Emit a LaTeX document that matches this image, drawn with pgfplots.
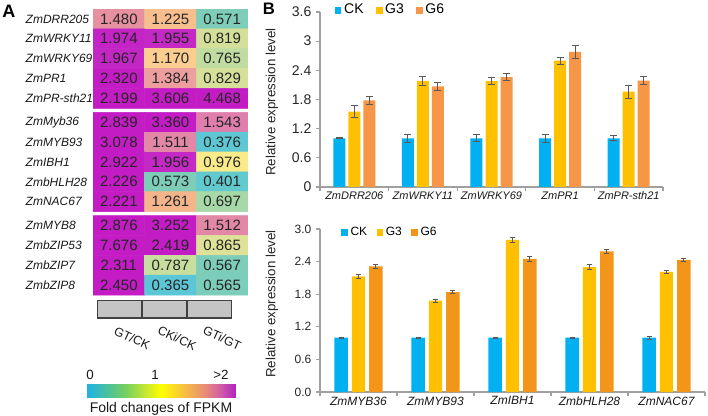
\documentclass[border=0pt]{standalone}
\usepackage{fontspec}
\setmainfont{Liberation Sans}
\usepackage{pgfplots}
\usepackage{pgfplotstable}
\pgfplotsset{compat=1.18}
\usetikzlibrary{calc}

\definecolor{ck}{HTML}{00B0F0}
\definecolor{gthree}{HTML}{FFC000}
\definecolor{gsixa}{HTML}{F79646}
\definecolor{gsixb}{HTML}{F39518}
\definecolor{errc}{HTML}{595959}
\definecolor{axc}{HTML}{A0A0A0}
\definecolor{graybox}{HTML}{C4C4C4}

\pgfplotsset{
 colormap={pastel}{rgb255(0pt)=(40,180,225) rgb255(36pt)=(90,198,214) rgb255(40pt)=(98,201,206) rgb255(57pt)=(125,205,184) rgb255(70pt)=(168,216,168) rgb255(82pt)=(212,224,154) rgb255(87pt)=(222,226,152) rgb255(98pt)=(250,234,138) rgb255(117pt)=(251,205,144) rgb255(126pt)=(244,181,140) rgb255(138pt)=(236,160,158) rgb255(148pt)=(230,144,160) rgb255(154pt)=(224,127,174) rgb255(175pt)=(208,80,190) rgb255(194pt)=(196,44,198) rgb255(200pt)=(196,28,196)},
 colormap={vivid}{rgb255(0pt)=(28,177,233) rgb255(25pt)=(110,205,100) rgb255(40pt)=(200,232,50) rgb255(50pt)=(255,255,0) rgb255(65pt)=(248,192,64) rgb255(80pt)=(232,136,120) rgb255(90pt)=(208,90,168) rgb255(100pt)=(176,34,192)},
 myerr/.style={error bars/y dir=both, error bars/y explicit,
   error bars/error bar style={errc, line width=0.75pt},
   error bars/error mark options={errc, rotate=90, mark size=#1, line width=0.75pt}},
}

% heat map: x = comparison (0 GT/CK, 1 CKi/CK, 2 GTi/GT), y = gene row, c = colour value (clipped at 2), t = printed value
\pgfplotstableread{
x y c t
0 0 1.480 1.480
1 0 1.225 1.225
2 0 0.571 0.571
0 1 1.974 1.974
1 1 1.955 1.955
2 1 0.819 0.819
0 2 1.967 1.967
1 2 1.170 1.170
2 2 0.765 0.765
0 3 2.000 2.320
1 3 1.384 1.384
2 3 0.829 0.829
0 4 2.000 2.199
1 4 2.000 3.606
2 4 2.000 4.468
}\heatA
\pgfplotstableread{
x y c t
0 5.2 2.000 2.839
1 5.2 2.000 3.360
2 5.2 1.543 1.543
0 6.2 2.000 3.078
1 6.2 1.511 1.511
2 6.2 0.376 0.376
0 7.2 2.000 2.922
1 7.2 1.956 1.956
2 7.2 0.976 0.976
0 8.2 2.000 2.226
1 8.2 0.573 0.573
2 8.2 0.401 0.401
0 9.2 2.000 2.221
1 9.2 1.261 1.261
2 9.2 0.697 0.697
}\heatB
\pgfplotstableread{
x y c t
0 10.4 2.000 2.876
1 10.4 2.000 3.252
2 10.4 1.512 1.512
0 11.4 2.000 7.676
1 11.4 2.000 2.419
2 11.4 0.865 0.865
0 12.4 2.000 2.311
1 12.4 0.787 0.787
2 12.4 0.567 0.567
0 13.4 2.000 2.450
1 13.4 0.365 0.365
2 13.4 0.565 0.565
}\heatC

\pgfplotstableread{
x ck ckerr g3 g3err g6 g6err
0 1.00 0.01 1.55 0.12 1.78 0.09
1 1.00 0.08 2.18 0.09 2.07 0.08
2 1.00 0.07 2.18 0.08 2.26 0.07
3 1.00 0.08 2.60 0.07 2.78 0.14
4 1.00 0.05 1.96 0.13 2.19 0.09
}\topdata

\pgfplotstableread{
x ck ckerr g3 g3err g6 g6err
0 1.00 0.01 2.13 0.04 2.31 0.03
1 1.00 0.01 1.68 0.03 1.84 0.02
2 1.00 0.01 2.80 0.04 2.45 0.04
3 1.00 0.01 2.30 0.04 2.59 0.035
4 1.00 0.03 2.21 0.025 2.43 0.035
}\botdata

\begin{document}
\begin{tikzpicture}

% ---------------- Panel A: heat map ----------------
\begin{axis}[name=heat, at={(69.75pt,90pt)}, anchor=south west,
  scale only axis, width=116.25pt, height=214.5pt,
  xmin=-0.5, xmax=2.5, ymin=-0.5, ymax=13.9, y dir=reverse,
  axis line style={draw=none}, major tick length=0pt, xtick=\empty,
  ytick={0,1,2,3,4,5.2,6.2,7.2,8.2,9.2,10.4,11.4,12.4,13.4},
  yticklabels={ZmDRR205,ZmWRKY11,ZmWRKY69,ZmPR1,ZmPR-sth21,ZmMyb36,ZmMYB93,ZmIBH1,ZmbHLH28,ZmNAC67,ZmMYB8,ZmbZIP53,ZmbZIP7,ZmbZIP8},
  yticklabel style={font=\itshape\fontsize{9}{11}\selectfont, text=black!90, anchor=west, xshift=-54pt},
  colormap name=pastel, point meta min=0, point meta max=2]
\addplot[matrix plot*, mesh/cols=3, point meta=\thisrow{c}] table[x=x, y=y] {\heatA};
\addplot[matrix plot*, mesh/cols=3, point meta=\thisrow{c}] table[x=x, y=y] {\heatB};
\addplot[matrix plot*, mesh/cols=3, point meta=\thisrow{c}] table[x=x, y=y] {\heatC};
\pgfplotsset{celltext/.style={only marks, mark=none, point meta=explicit symbolic, nodes near coords,
   every node near coord/.append style={anchor=center, font=\fontsize{11.25}{12}\selectfont, text=black!85}}}
\addplot[celltext] table[x=x, y=y, meta=t] {\heatA};
\addplot[celltext] table[x=x, y=y, meta=t] {\heatB};
\addplot[celltext] table[x=x, y=y, meta=t] {\heatC};
\end{axis}

% gray comparison boxes + colour bar
\begin{axis}[at={(72.75pt,72.75pt)}, anchor=south west,
  scale only axis, width=101.25pt, height=13.5pt,
  xmin=-0.5, xmax=2.5, ymin=0, ymax=1,
  axis line style={draw=none}, major tick length=0pt, ytick=\empty,
  xtick={0,1,2}, xticklabels={GT/CK,CKi/CK,GTi/GT},
  xticklabel style={font=\fontsize{9.3}{11}\selectfont, text=black!90, xshift=9.5pt, yshift=-15pt, rotate=-25, anchor=center},
  colormap name=vivid, point meta min=0, point meta max=2,
  colorbar horizontal,
  colorbar style={at={($(parent axis.south west)+(-8.25pt,-51pt)$)}, anchor=south west,
    scale only axis, width=112.5pt, height=9.75pt,
    axis line style={draw=none}, major tick length=0pt,
    xtick={0.053,0.92,1.8}, xticklabels={0,1,{>2}}, xticklabel pos=upper,
    xticklabel style={font=\fontsize{10}{12}\selectfont, text=black!90},
    xlabel={Fold changes of FPKM},
    xlabel style={at={(axis description cs:0.5,0)}, anchor=north, font=\fontsize{10.5}{12}\selectfont, text=black!90}},
  ]
\addplot[ybar, bar width=1, fill=graybox, draw=black!75, line width=0.9pt] coordinates {(0,1) (1,1) (2,1)};
\end{axis}

\node[font=\bfseries\fontsize{13.5}{14}\selectfont] at (6.75pt,303pt) {A};
\node[font=\bfseries\fontsize{12.5}{14}\selectfont] at (201.75pt,304.5pt) {B};

% ---------------- Panel B top ----------------
\begin{axis}[at={(240pt,171pt)}, anchor=south west,
  scale only axis, width=257.25pt, height=131.25pt,
  xmin=-0.5, xmax=4.5, ymin=0, ymax=3.6,
  axis lines*=left, axis line style={axc, line width=0.8pt},
  tick style={axc, line width=0.8pt}, tick align=outside, major tick length=3pt,
  ytick={0,0.6,1.2,1.8,2.4,3,3.6}, yticklabels={0,0.6,1.2,1.8,2.4,3,3.6},
  yticklabel style={font=\fontsize{10.5}{12}\selectfont, text=black!85},
  xtick={-0.5,0.5,1.5,2.5,3.5,4.5}, xticklabels={,,,,,},
  extra x ticks={0,1,2,3,4},
  extra x tick labels={ZmDRR206,ZmWRKY11,ZmWRKY69,ZmPR1,ZmPR-sth21},
  extra x tick style={major tick length=0pt},
  xticklabel style={font=\itshape\fontsize{8.25}{10}\selectfont, text=black!90},
  ylabel={Relative expression level},
  ylabel style={at={(axis description cs:-0.14,0.486)}, anchor=center, font=\fontsize{10}{12}\selectfont, text=black!85},
  legend style={at={(0.03,1.011)}, anchor=west, draw=none, fill=none, legend columns=3,
    font=\fontsize{10.5}{12}\selectfont, /tikz/every even column/.append style={column sep=7pt}},
  legend image code/.code={\fill[#1] (0pt,-2.6pt) rectangle (5.2pt,2.6pt);},
  ]
\addplot[ybar, bar width=9pt, bar shift=0pt, fill=ck, draw=none, myerr=2.6pt] table[x expr=\thisrow{x}-0.2187, y=ck, y error=ckerr] {\topdata};
\addlegendentry{CK}
\addplot[ybar, bar width=9pt, bar shift=0pt, fill=gthree, draw=none, myerr=2.6pt] table[x=x, y=g3, y error=g3err] {\topdata};
\addlegendentry{G3}
\addplot[ybar, bar width=9pt, bar shift=0pt, fill=gsixa, draw=none, myerr=2.6pt] table[x expr=\thisrow{x}+0.2187, y=g6, y error=g6err] {\topdata};
\addlegendentry{G6}
\end{axis}

% ---------------- Panel B bottom ----------------
\begin{axis}[at={(240pt,17.25pt)}, anchor=south west,
  scale only axis, width=288.75pt, height=122.25pt,
  xmin=-0.5, xmax=4.5, ymin=0, ymax=3.0,
  axis lines*=left, axis line style={axc, line width=0.8pt},
  tick style={axc, line width=0.8pt}, tick align=outside, major tick length=3pt,
  ytick={0,0.6,1.2,1.8,2.4,3.0}, yticklabels={0.0,0.6,1.2,1.8,2.4,3.0},
  yticklabel style={font=\fontsize{9}{11}\selectfont, text=black!85},
  xtick={-0.5,0.5,1.5,2.5,3.5,4.5}, xticklabels={,,,,,},
  extra x ticks={0,1,2,3,4},
  extra x tick labels={ZmMYB36,ZmMYB93,ZmIBH1,ZmbHLH28,ZmNAC67},
  extra x tick style={major tick length=0pt},
  xticklabel style={font=\itshape\fontsize{9}{11}\selectfont, text=black!90},
  ylabel={Relative expression level},
  ylabel style={at={(axis description cs:-0.125,0.54)}, anchor=center, font=\fontsize{10}{12}\selectfont, text=black!85},
  legend style={at={(0.044,0.98)}, anchor=west, draw=none, fill=none, legend columns=3,
    font=\fontsize{9}{11}\selectfont, /tikz/every even column/.append style={column sep=5pt}},
  legend image code/.code={\fill[#1] (0pt,-2.5pt) rectangle (5pt,2.5pt);},
  ]
\addplot[ybar, bar width=10.1pt, bar shift=0pt, fill=ck, draw=none, myerr=2pt] table[x expr=\thisrow{x}-0.225, y=ck, y error=ckerr] {\botdata};
\addlegendentry{CK}
\addplot[ybar, bar width=10.1pt, bar shift=0pt, fill=gthree, draw=none, myerr=2pt] table[x=x, y=g3, y error=g3err] {\botdata};
\addlegendentry{G3}
\addplot[ybar, bar width=10.1pt, bar shift=0pt, fill=gsixb, draw=none, myerr=2pt] table[x expr=\thisrow{x}+0.225, y=g6, y error=g6err] {\botdata};
\addlegendentry{G6}
\end{axis}

\pgfresetboundingbox
\path[use as bounding box] (0pt,0pt) rectangle (531pt,311.25pt);
\end{tikzpicture}
\end{document}
